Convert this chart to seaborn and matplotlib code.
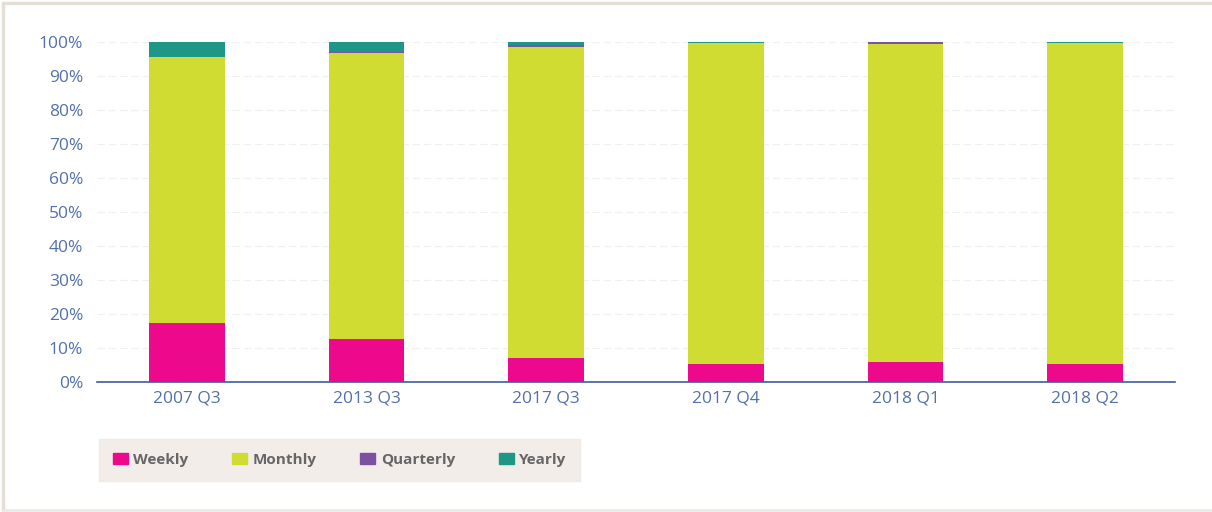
import numpy as np
import matplotlib.pyplot as plt
import matplotlib.patches as mpatches
import matplotlib.lines as mlines
import seaborn as sns
import pandas as pd

# data (percent of accounts)
periods = ["2007 Q3", "2013 Q3", "2017 Q3", "2017 Q4", "2018 Q1", "2018 Q2"]
weekly = [17.4, 12.6, 6.9, 5.4, 6.0, 5.4]
monthly = [78.2, 84.1, 91.6, 94.3, 93.5, 94.3]
quarterly = [0.0, 0.4, 0.6, 0.0, 0.4, 0.0]
yearly = [4.4, 2.9, 0.9, 0.3, 0.1, 0.3]

series = ["Weekly", "Monthly", "Quarterly", "Yearly"]
colors = ["#ec098b", "#d0dc32", "#7b52a1", "#1f9787"]

df = pd.DataFrame({"period": periods, "Weekly": weekly, "Monthly": monthly,
                   "Quarterly": quarterly, "Yearly": yearly})
cum = df[series].cumsum(axis=1)

sns.set_style("white")
plt.rcParams['font.family'] = ['Open Sans', 'DejaVu Sans']

fig = plt.figure(figsize=(12.12, 5.12), dpi=100)
ax = fig.add_axes([0.080, 0.254, 0.8895, 0.664])

# stacked bars: draw cumulative totals from the top segment down
for name, col in reversed(list(zip(series, colors))):
    sns.barplot(x=df["period"], y=cum[name], color=col, width=0.42,
                saturation=1, linewidth=0, edgecolor="none", ax=ax, zorder=2)

ax.set_ylim(0, 100)
ax.set_xlim(-0.5, 5.5)
ax.set_yticks(np.arange(0, 101, 10))
ax.set_yticklabels([f"{v}%" for v in range(0, 101, 10)])
ax.set_xlabel("")
ax.set_ylabel("")

tick_col = "#5271ab"
ax.tick_params(axis="both", length=0, labelsize=12.5, colors=tick_col)
ax.tick_params(axis="y", pad=10)
ax.tick_params(axis="x", pad=6)
ax.yaxis.grid(True, linestyle=(0, (6, 3)), color="#f0f0f0", linewidth=0.9, zorder=0)
ax.set_axisbelow(True)
for s in ["top", "right", "left"]:
    ax.spines[s].set_visible(False)
ax.spines["bottom"].set_color("#3d5c9e")
ax.spines["bottom"].set_linewidth(1.2)
ax.spines["bottom"].set_zorder(3)

# legend in a beige box under the chart
handles = [mpatches.Patch(color=c, label=n) for n, c in zip(series, colors)]
leg = fig.legend(handles=handles, ncol=4, loc="center left",
                 bbox_to_anchor=(0.0817, 0.0566, 0.397, 0.09), mode="expand",
                 frameon=True, fancybox=False, handlelength=1.0, handleheight=0.75,
                 handletextpad=0.35, borderaxespad=0, borderpad=0.9,
                 prop={"size": 11, "weight": "bold"})
leg.get_frame().set_facecolor("#efe9e4")
leg.get_frame().set_edgecolor("#efe9e4")
for t in leg.get_texts():
    t.set_color("#666666")

# outer frame: left and top stronger, bottom faint
fig.add_artist(mlines.Line2D([0.0025, 0.0025], [0.003, 0.995], transform=fig.transFigure,
                             color="#e6ddd4", linewidth=2.5))
fig.add_artist(mlines.Line2D([0.0025, 1.0], [0.995, 0.995], transform=fig.transFigure,
                             color="#e6ddd4", linewidth=2.5))
fig.add_artist(mlines.Line2D([0.0025, 1.0], [0.003, 0.003], transform=fig.transFigure,
                             color="#eeeae5", linewidth=2))

fig.savefig("out.png", dpi=100)
